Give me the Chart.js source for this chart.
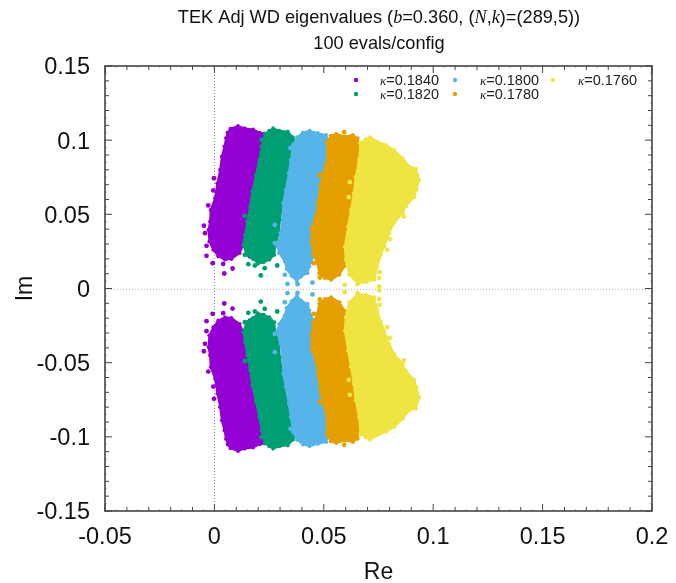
<!DOCTYPE html>
<html><head><meta charset="utf-8">
<style>html,body{margin:0;padding:0;background:#fff}canvas{display:block;filter:blur(0.45px)}</style>
<script src="https://cdn.jsdelivr.net/npm/chart.js@4"></script></head>
<body><canvas id="c" width="676" height="583"></canvas>
<script>
const xTicks=[-0.05,0,0.05,0.1,0.15,0.2];
const yTicks=[-0.15,-0.1,-0.05,0,0.05,0.1,0.15];
const kappaLabels=['κ=0.1840','κ=0.1820','κ=0.1800','κ=0.1780','κ=0.1760'];
const colors=['#9400d3','#009e73','#56b4e9','#e69f00','#f0e442'];

const purpleUpper=[[.0060,.1052],[.0073,.1079],[.0108,.1097],[.0139,.1081],[.0177,.1074],[.0207,.1052],[.0228,.1047],[.0219,.0991],[.0210,.0913],[.0204,.0845],[.0189,.0778],[.0180,.0699],[.0171,.0609],[.0165,.0530],[.0149,.0440],[.0139,.0361],[.0131,.0287],[.0116,.0238],[.0078,.0197],[.0048,.0193],[.0017,.0215],[-.0006,.0260],[-.0024,.0316],[-.0028,.0395],[-.0021,.0451],[-.0018,.0530],[.0002,.0609],[.0013,.0710],[.0025,.0800],[.0033,.0890],[.0045,.0958],[.0052,.1014]];
const purpleLower=[[.0060,-.1052],[.0073,-.1079],[.0108,-.1097],[.0139,-.1081],[.0177,-.1074],[.0207,-.1052],[.0228,-.1047],[.0219,-.0991],[.0210,-.0913],[.0204,-.0845],[.0189,-.0778],[.0180,-.0699],[.0171,-.0609],[.0165,-.0530],[.0149,-.0440],[.0139,-.0361],[.0131,-.0287],[.0116,-.0238],[.0078,-.0197],[.0048,-.0193],[.0017,-.0215],[-.0006,-.0260],[-.0024,-.0316],[-.0028,-.0395],[-.0021,-.0451],[-.0018,-.0530],[.0002,-.0609],[.0013,-.0710],[.0025,-.0800],[.0033,-.0890],[.0045,-.0958],[.0052,-.1014]];
const purpleStray=[[-.0002,.0744],[-.0005,.0661],[-.0028,.0560],[-.0048,.0423],[-.0043,.0373],[-.0036,.0288],[-.0036,.0220],[-.0008,.0171],[.0045,.0101],[.0083,.0135],[.0040,.0166],[.0162,.0216],[-.0002,-.0744],[-.0005,-.0661],[-.0028,-.0560],[-.0048,-.0423],[-.0043,-.0373],[-.0036,-.0288],[-.0036,-.0220],[-.0008,-.0171],[.0045,-.0101],[.0083,-.0135],[.0040,-.0166],[.0162,-.0216]];

const greenUpper=[[.0230,.1043],[.0250,.1065],[.0268,.1081],[.0298,.1065],[.0336,.1059],[.0359,.1021],[.0378,.0980],[.0356,.0940],[.0348,.0868],[.0339,.0778],[.0325,.0665],[.0310,.0564],[.0301,.0463],[.0295,.0373],[.0279,.0283],[.0275,.0226],[.0252,.0193],[.0225,.0175],[.0199,.0166],[.0176,.0197],[.0146,.0226],[.0131,.0294],[.0139,.0361],[.0149,.0451],[.0162,.0553],[.0172,.0654],[.0189,.0766],[.0204,.0868],[.0215,.0958]];
const greenLower=[[.0230,-.1043],[.0250,-.1065],[.0268,-.1081],[.0298,-.1065],[.0336,-.1059],[.0359,-.1021],[.0378,-.0980],[.0356,-.0940],[.0348,-.0868],[.0339,-.0778],[.0325,-.0665],[.0310,-.0564],[.0301,-.0463],[.0295,-.0373],[.0279,-.0283],[.0275,-.0226],[.0252,-.0193],[.0225,-.0175],[.0199,-.0166],[.0176,-.0197],[.0146,-.0226],[.0131,-.0294],[.0139,-.0361],[.0149,-.0451],[.0162,-.0553],[.0172,-.0654],[.0189,-.0766],[.0204,-.0868],[.0215,-.0958]];
const greenStray=[[.0212,.0088],[.0155,.0164],[.0287,.0155],[.0139,.0227],[.0185,.0155],[.0230,.0137],[.0139,.0490],[.0215,.1002],[.0212,-.0088],[.0155,-.0164],[.0287,-.0155],[.0139,-.0227],[.0185,-.0155],[.0230,-.0137],[.0139,-.0490],[.0215,-.1002]];

const blueUpper=[[.0359,.0969],[.0377,.1021],[.0405,.1053],[.0435,.1065],[.0473,.1049],[.0511,.1036],[.0523,.0991],[.0514,.0913],[.0511,.0845],[.0493,.0766],[.0484,.0699],[.0473,.0586],[.0462,.0485],[.0443,.0395],[.0447,.0305],[.0453,.0215],[.0435,.0148],[.0427,.0103],[.0397,.0080],[.0377,.0046],[.0352,.0085],[.0329,.0130],[.0321,.0181],[.0295,.0238],[.0286,.0283],[.0301,.0373],[.0313,.0485],[.0313,.0575],[.0325,.0665],[.0339,.0778],[.0348,.0868]];
const blueLower=[[.0359,-.0969],[.0377,-.1021],[.0405,-.1053],[.0435,-.1065],[.0473,-.1049],[.0511,-.1036],[.0523,-.0991],[.0514,-.0913],[.0511,-.0845],[.0493,-.0766],[.0484,-.0699],[.0473,-.0586],[.0462,-.0485],[.0443,-.0395],[.0447,-.0305],[.0453,-.0215],[.0435,-.0148],[.0427,-.0103],[.0397,-.0080],[.0377,-.0046],[.0352,-.0085],[.0329,-.0130],[.0321,-.0181],[.0295,-.0238],[.0286,-.0283],[.0301,-.0373],[.0313,-.0485],[.0313,-.0575],[.0325,-.0665],[.0339,-.0778],[.0348,-.0868]];
const blueStray=[[.0334,.0031],[.0380,.0029],[.0448,.0040],[.0322,.0092],[.0276,.0429],[.0276,.0306],[.0348,.0946],[.0334,-.0031],[.0380,-.0029],[.0448,-.0040],[.0322,-.0092],[.0276,-.0429],[.0276,-.0306],[.0348,-.0946]];

const orangeUpper=[[.0514,.0985],[.0530,.1031],[.0557,.1044],[.0595,.1026],[.0633,.1037],[.0656,.1014],[.0664,.0958],[.0660,.0868],[.0645,.0755],[.0636,.0643],[.0623,.0530],[.0606,.0418],[.0595,.0317],[.0603,.0215],[.0595,.0148],[.0572,.0092],[.0534,.0058],[.0504,.0069],[.0478,.0103],[.0469,.0171],[.0451,.0227],[.0443,.0317],[.0443,.0407],[.0462,.0485],[.0473,.0586],[.0484,.0699],[.0493,.0766],[.0511,.0845]];
const orangeLower=[[.0514,-.0985],[.0530,-.1031],[.0557,-.1044],[.0595,-.1026],[.0633,-.1037],[.0656,-.1014],[.0664,-.0958],[.0660,-.0868],[.0645,-.0755],[.0636,-.0643],[.0623,-.0530],[.0606,-.0418],[.0595,-.0317],[.0603,-.0215],[.0595,-.0148],[.0572,-.0092],[.0534,-.0058],[.0504,-.0069],[.0478,-.0103],[.0469,-.0171],[.0451,-.0227],[.0443,-.0317],[.0443,-.0407],[.0462,-.0485],[.0473,-.0586],[.0484,-.0699],[.0493,-.0766],[.0511,-.0845]];
const orangeStray=[[.0593,.1054],[.0482,.0766],[.0482,.0074],[.0454,.0171],[.0593,-.1054],[.0482,-.0766],[.0482,-.0074],[.0454,-.0171]];

const yellowUpper=[[.0666,.0980],[.0690,.1007],[.0711,.1021],[.0746,.0991],[.0784,.0969],[.0822,.0935],[.0861,.0879],[.0891,.0823],[.0922,.0811],[.0929,.0766],[.0937,.0733],[.0925,.0665],[.0914,.0616],[.0876,.0553],[.0861,.0508],[.0822,.0440],[.0800,.0373],[.0777,.0283],[.0762,.0226],[.0746,.0148],[.0731,.0058],[.0693,.0040],[.0655,.0036],[.0615,.0092],[.0599,.0193],[.0595,.0283],[.0610,.0418],[.0623,.0530],[.0636,.0643],[.0645,.0755],[.0660,.0868]];
const yellowLower=[[.0666,-.0980],[.0690,-.1007],[.0711,-.1021],[.0746,-.0991],[.0784,-.0969],[.0822,-.0935],[.0861,-.0879],[.0891,-.0823],[.0922,-.0811],[.0929,-.0766],[.0937,-.0733],[.0925,-.0665],[.0914,-.0616],[.0876,-.0553],[.0861,-.0508],[.0822,-.0440],[.0800,-.0373],[.0777,-.0283],[.0762,-.0226],[.0746,-.0148],[.0731,-.0058],[.0693,-.0040],[.0655,-.0036],[.0615,-.0092],[.0599,-.0193],[.0595,-.0283],[.0610,-.0418],[.0623,-.0530],[.0636,-.0643],[.0645,-.0755],[.0660,-.0868]];
const yellowStray=[[.0596,.0025],[.0654,.0031],[.0753,.0070],[.0753,.0013],[.0790,.0261],[.0866,.0485],[.0801,.0333],[.0755,.0110],[.0619,.0717],[.0614,.0616],[.0596,-.0025],[.0654,-.0031],[.0753,-.0070],[.0753,-.0013],[.0790,-.0261],[.0866,-.0485],[.0801,-.0333],[.0755,-.0110],[.0619,-.0717],[.0614,-.0616]];

const SANS='"Liberation Sans",Arial,sans-serif';
const pts=a=>a.map(([x,y])=>({x,y}));
const groups=[
 [purpleUpper,purpleLower,purpleStray],
 [greenUpper,greenLower,greenStray],
 [blueUpper,blueLower,blueStray],
 [orangeUpper,orangeLower,orangeStray],
 [yellowUpper,yellowLower,yellowStray]];
const datasets=[];
groups.forEach((g,i)=>{
  const c=colors[i], order=(5-i)*2;
  [g[0],g[1]].forEach((a,j)=>datasets.push({label:kappaLabels[i]+(j?' lower':' upper'),data:pts(a.concat([a[0]])),showLine:true,fill:'shape',
    backgroundColor:c,borderColor:c,borderWidth:1.5,pointRadius:1.8,pointBackgroundColor:c,pointBorderWidth:0,tension:0,order:order}));
  datasets.push({label:kappaLabels[i]+' stray',data:pts(g[2]),showLine:false,backgroundColor:c,borderColor:c,pointRadius:2.4,pointBorderWidth:0,order:order-1});
});

const frame={
 id:'frame',
 beforeDatasetsDraw(ch){
  const {ctx,chartArea:a,scales:{x,y}}=ch;
  ctx.save();ctx.lineWidth=1;ctx.setLineDash([1,2]);
  const x0=Math.round(x.getPixelForValue(0))+.5,y0=Math.round(y.getPixelForValue(0))+.5;
  ctx.strokeStyle='#888';ctx.beginPath();ctx.moveTo(x0,a.top);ctx.lineTo(x0,a.bottom);ctx.stroke();
  ctx.strokeStyle='#bbb';ctx.beginPath();ctx.moveTo(a.left,y0);ctx.lineTo(a.right,y0);ctx.stroke();ctx.restore();
 },
 afterDraw(ch){
  const {ctx,chartArea:a,scales:{x,y}}=ch;
  ctx.save();ctx.strokeStyle='#444';ctx.lineWidth=1;
  const tick=(v,len,ax)=>{
    ctx.beginPath();
    if(ax==='x'){const p=x.getPixelForValue(v);ctx.moveTo(p,a.bottom);ctx.lineTo(p,a.bottom-len);ctx.moveTo(p,a.top);ctx.lineTo(p,a.top+len);}
    else{const p=y.getPixelForValue(v);ctx.moveTo(a.left,p);ctx.lineTo(a.left+len,p);ctx.moveTo(a.right,p);ctx.lineTo(a.right-len,p);}
    ctx.stroke();};
  for(let i=0;i<=50;i++){const v=-0.05+i*0.005;ctx.globalAlpha=i%2?0.4:1;tick(v,i%10===0?7:(i%2?2:4),'x');}
  for(let i=0;i<=60;i++){const v=-0.15+i*0.005;ctx.globalAlpha=i%2?0.4:1;tick(v,i%10===0?7:(i%2?2:4),'y');}
  ctx.globalAlpha=1;ctx.strokeStyle='#444';ctx.lineWidth=1.6;ctx.strokeRect(a.left,a.top,a.right-a.left,a.bottom-a.top);
  ctx.restore();
  const rich=(segs,cx,cy)=>{
    let w=0;segs.forEach(s=>{ctx.font=s[1];w+=ctx.measureText(s[0]).width;});
    let px=cx-w/2;ctx.fillStyle='#111';ctx.textBaseline='alphabetic';ctx.textAlign='left';
    segs.forEach(s=>{ctx.font=s[1];ctx.fillText(s[0],px,cy);px+=ctx.measureText(s[0]).width;});};
  const R='18.2px '+SANS, I='italic 18.2px "Liberation Serif",serif';
  rich([['TEK Adj WD eigenvalues (',R],['b',I],['=0.360, (',R],['N',I],[',',R],['k',I],[')=(289,5))',R]],379,23);
  rich([['100 evals/config',R]],379,49);
  const lx=[356,455,553], tx=[380,480,578], ly=[81,95];
  const place=[[0,0],[0,1],[1,0],[1,1],[2,0]];
  kappaLabels.forEach((lab,i)=>{
    const [c,r]=place[i];
    ctx.fillStyle=colors[i];ctx.beginPath();ctx.arc(lx[c],ly[r]-1,2.2,0,7);ctx.fill();
    ctx.fillStyle='#222';ctx.textBaseline='middle';
    ctx.font='italic 13px "Liberation Serif",serif';ctx.fillText('κ',tx[c],ly[r]+1);
    const w=ctx.measureText('κ').width;ctx.font='14.5px '+SANS;ctx.fillText(lab.slice(1),tx[c]+w,ly[r]);
  });
 }
};

new Chart(document.getElementById('c'),{
 type:'scatter',
 data:{datasets},
 plugins:[frame],
 options:{
  responsive:false,animation:false,events:[],
  layout:{padding:{left:0,right:24,top:66,bottom:0}},
  plugins:{legend:{display:false},title:{display:false},tooltip:{enabled:false}},
  scales:{
   x:{type:'linear',min:-0.05,max:0.2,
      afterBuildTicks(s){s.ticks=xTicks.map(value=>({value}));},
      afterFit(s){s.height=72;},
      grid:{display:false},border:{display:false},
      ticks:{maxRotation:0,autoSkip:false,padding:4,color:'#111',font:{size:23.5,family:SANS},callback:v=>String(+v.toFixed(2))},
      title:{display:true,text:'Re',color:'#111',font:{size:23,family:SANS},padding:{top:4,bottom:-3}}},
   y:{type:'linear',min:-0.15,max:0.15,
      afterBuildTicks(s){s.ticks=yTicks.map(value=>({value}));},
      afterFit(s){s.width=105;},
      grid:{display:false},border:{display:false},
      ticks:{autoSkip:false,padding:7,labelOffset:2,color:'#111',font:{size:23.5,family:SANS},callback:v=>String(+v.toFixed(2))},
      title:{display:true,text:'Im',color:'#111',font:{size:23,family:SANS},padding:{top:12,bottom:0}}}
  }
 }
});
</script></body></html>
